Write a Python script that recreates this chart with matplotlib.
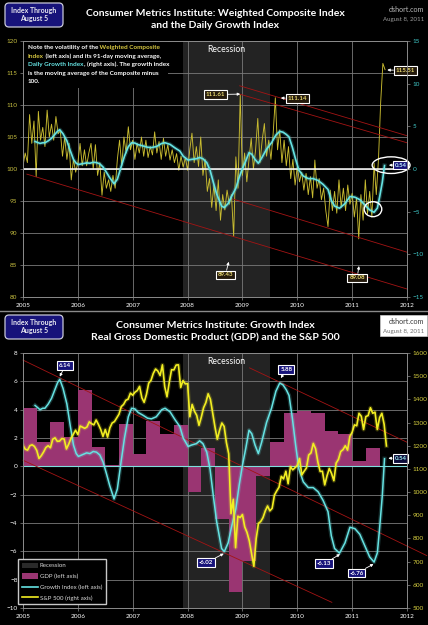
import numpy as np
import matplotlib
matplotlib.use('Agg')
import matplotlib.pyplot as plt
from matplotlib.patches import Rectangle, Ellipse, FancyBboxPatch, Patch
from matplotlib.lines import Line2D
from matplotlib.transforms import IdentityTransform

# ---------------- data ----------------
# Weighted Composite Index, one reading about every two weeks (0.04 yr) from 2005.0
comp_start = 2005.0
comp_step = 0.04
composite = [
    # 2005
    100.5, 102.5, 101, 108.5, 104, 107.5, 98.8, 109, 104.5, 106.5, 103.5, 109.2, 105,
    107, 104.5, 108.2, 105.5, 106, 102, 105, 101.5, 104, 98.3, 101.5, 99.5,
    # 2006
    101, 104, 100.5, 103, 100.5, 102.5, 104, 100, 103.8, 99, 101, 95.9, 99.5,
    97, 98.3, 96.5, 99, 97, 101.5, 104.5, 100.5, 105, 102.5, 106.6, 103,
    # 2007
    104.5, 101.5, 104, 102.5, 105, 102, 104.5, 101.8, 103.5, 102.2, 105.8, 102.5, 104.3,
    101.5, 104.8, 102, 103.8, 101.4, 103, 101, 102.4, 99.8, 102, 100.3, 101.8,
    # 2008
    99.8, 103, 105.6, 101, 103.5, 100.4, 105, 99, 101.5, 96.5, 98.5, 94, 97.5,
    93.5, 98.3, 92, 96, 93.6, 96.7, 94.5, 96, 89.43, 101.9, 97, 111.61,
    # 2009
    99, 102.5, 98, 101.5, 104.8, 100, 103, 107.9, 101, 104.5, 107.1, 102, 104.5,
    101.5, 105.5, 111.14, 103, 106.1, 101, 104.5, 100.5, 103.5, 98.5, 101.5, 97.5,
    # 2010
    100.4, 98, 99.5, 96.7, 99.3, 96, 98.8, 95.5, 101.4, 97, 98.5, 95.2, 97,
    93.5, 91, 96.7, 93.5, 96.5, 93.1, 98.3, 94, 97, 93.5, 97.5, 94.5,
    # 2011
    96.2, 92.5, 95.5, 89.08, 96, 92, 98.3, 93, 96.5, 92.5, 100.9, 96, 101.5,
    110.4, 116.5, 115.51,
]

# Daily Growth Index (91-day moving average of composite minus 100)
growth_years = [
    2005.22, 2005.25, 2005.31, 2005.36, 2005.40, 2005.46, 2005.52, 2005.58, 2005.63, 2005.67,
    2005.73, 2005.80, 2005.86, 2005.92, 2005.97, 2006.01, 2006.10, 2006.16, 2006.22, 2006.28,
    2006.34, 2006.40, 2006.46, 2006.52, 2006.58, 2006.66, 2006.72, 2006.78, 2006.85, 2006.92,
    2006.98, 2007.04, 2007.10, 2007.19, 2007.27, 2007.34, 2007.43, 2007.53, 2007.59, 2007.68,
    2007.77, 2007.86, 2007.92, 2008.01, 2008.07, 2008.16, 2008.22, 2008.28, 2008.35, 2008.41,
    2008.47, 2008.53, 2008.62, 2008.67, 2008.74, 2008.80, 2008.88, 2008.94, 2009.00, 2009.06,
    2009.12, 2009.17, 2009.23, 2009.29, 2009.35, 2009.44, 2009.53, 2009.61, 2009.68, 2009.74,
    2009.80, 2009.85, 2009.91, 2009.97, 2010.03, 2010.11, 2010.20, 2010.29, 2010.38, 2010.47,
    2010.56, 2010.62, 2010.68, 2010.77, 2010.87, 2010.96, 2011.05, 2011.14, 2011.23, 2011.32,
    2011.40, 2011.46, 2011.50, 2011.55, 2011.59,
]
growth_vals = [
    4.3, 4.2, 4.0, 4.1, 4.1, 4.4, 4.8, 5.4, 5.9, 6.14,
    5.5, 4.4, 2.9, 1.5, 0.9, 0.7, 0.85, 0.95, 0.9, 1.05,
    1.0, 0.8, 0.3, -0.5, -1.35, -2.3, -1.6, 0.1, 2.0, 3.5,
    4.1, 4.05, 3.8, 3.6, 3.4, 3.35, 3.5, 4.0, 4.1, 3.85,
    3.3, 2.8, 2.0, 1.4, 1.5, 1.6, 1.8, 1.6, 1.0, -0.2,
    -2.1, -3.9, -5.8, -6.02, -5.4, -4.3, -3.0, -1.35, 0.07, 1.25,
    2.55, 2.3, 1.5, 0.9, 1.7, 3.1, 4.1, 5.3, 5.88, 5.75,
    5.4, 5.0, 3.4, 1.5, -0.2, -1.1, -1.5, -1.5, -1.8, -2.4,
    -3.2, -4.9, -5.8, -6.13, -5.4, -4.3, -4.4, -4.8, -5.6, -6.4,
    -6.76, -6.1, -4.4, -2.06, 0.54,
]

# Real GDP, quarterly % change (annualized), 2005Q1 .. 2011Q2
gdp_quarters = ['2005Q1', '2005Q2', '2005Q3', '2005Q4', '2006Q1', '2006Q2', '2006Q3', '2006Q4',
                '2007Q1', '2007Q2', '2007Q3', '2007Q4', '2008Q1', '2008Q2', '2008Q3', '2008Q4',
                '2009Q1', '2009Q2', '2009Q3', '2009Q4', '2010Q1', '2010Q2', '2010Q3', '2010Q4',
                '2011Q1', '2011Q2']
gdp_vals = [4.1, 1.7, 3.1, 2.1, 5.4, 1.4, 0.1, 3.0,
            0.9, 3.2, 2.3, 2.9, -1.8, 1.3, -3.7, -8.9,
            -6.7, -0.7, 1.7, 3.8, 3.9, 3.8, 2.5, 2.3,
            0.4, 1.3]

# S&P 500: first day of 2005, then mid-month / month-end readings, last = Aug 5 2011
sp500 = [
    1202,
    1185, 1181, 1200, 1204, 1197, 1180, 1145, 1157, 1173, 1192, 1200, 1191,
    1228, 1234, 1219, 1220, 1231, 1229, 1186, 1207, 1232, 1249, 1267, 1248,
    1285, 1280, 1275, 1281, 1303, 1295, 1290, 1311, 1292, 1270, 1240, 1270,
    1237, 1277, 1298, 1304, 1320, 1336, 1369, 1378, 1396, 1401, 1427, 1418,
    1431, 1438, 1456, 1407, 1387, 1421, 1470, 1482, 1512, 1531, 1522, 1503,
    1549, 1455, 1411, 1474, 1528, 1527, 1548, 1549, 1451, 1481, 1467, 1468,
    1325, 1378, 1349, 1331, 1288, 1323, 1364, 1386, 1424, 1400, 1340, 1280,
    1228, 1267, 1298, 1283, 1213, 1165, 907, 969, 760, 896, 890, 903,
    850, 826, 790, 735, 680, 798, 865, 873, 890, 919, 940, 919,
    930, 987, 1005, 1021, 1068, 1057, 1090, 1036, 1110, 1096, 1105, 1115,
    1145, 1074, 1090, 1104, 1160, 1169, 1210, 1187, 1130, 1089, 1090, 1031,
    1070, 1102, 1080, 1049, 1125, 1141, 1175, 1183, 1200, 1181, 1240, 1258,
    1290, 1286, 1340, 1327, 1270, 1326, 1330, 1364, 1340, 1345, 1270, 1321,
    1340, 1292, 1199,
]

recession = (2007.92, 2009.5)

# hand drawn trend channels (start, end) in data units
top_trends = [((2008.95, 113.0), (2012.0, 105.2)),
              ((2008.95, 111.7), (2012.0, 104.1)),
              ((2005.07, 99.2), (2012.0, 81.25)),
              ((2008.83, 95.3), (2012.0, 87.0))]
bottom_trends = [((2005.0, 7.5), (2012.36, -6.3)),
                 ((2005.0, 0.43), (2010.63, -9.6)),
                 ((2009.13, 6.95), (2012.0, 1.7))]

# ---------------- style ----------------
W, H = 428, 625
YEL_COMP = '#c9bc30'
CYAN = '#66e3e3'
SPX = '#f2ee22'
GDP = '#9a3572'
REC = '#232323'
GRID = '#7a7a7a'
RED = '#a31414'
NAVY = '#17137a'

plt.rcParams['font.family'] = ['Lato', 'DejaVu Sans']

fig = plt.figure(figsize=(W / 100, H / 100), dpi=100, facecolor='black')


def fpos(x, y):
    return x / W, 1 - y / H


def style(ax):
    ax.set_facecolor('black')
    for s in ax.spines.values():
        s.set_color('#8a8a8a')
        s.set_linewidth(0.6)
    ax.tick_params(labelsize=4.6, length=2, width=0.5, color='#8a8a8a', pad=2)


def fit_width(txt, px):
    r = fig.canvas.get_renderer()
    w = txt.get_window_extent(r).width
    txt.set_fontsize(txt.get_fontsize() * px / w)
    return txt.get_fontsize()


def header(top, line1, line2, w1, boxed_credit):
    box = FancyBboxPatch((5, H - top - 25), 58, 24, boxstyle='round,pad=0,rounding_size=4',
                         transform=IdentityTransform(), fc=NAVY, ec='#c8c8d8', lw=0.9)
    fig.add_artist(box)
    fig.text(*fpos(34, top + 8), 'Index Through', ha='center', va='center',
             color='#e8e8f0', fontsize=5, weight='bold')
    fig.text(*fpos(34, top + 17), 'August 5', ha='center', va='center',
             color='#e8e8f0', fontsize=5, weight='bold')
    t1 = fig.text(*fpos(215, top + 11), line1, ha='center', va='center',
                  color='white', fontsize=8, weight='bold')
    size = fit_width(t1, w1)
    fig.text(*fpos(215, top + 24), line2, ha='center', va='center',
             color='white', fontsize=size, weight='bold')
    if boxed_credit:
        fig.add_artist(Rectangle((380, H - top - 22), 47, 21, transform=IdentityTransform(),
                                 fc='white', ec='#d0d0d0', lw=0.5))
        c1, c2 = '#3a3a3a', '#707070'
    else:
        c1, c2 = '#b8b8b8', '#9a9a9a'
    fig.text(*fpos(424, top + 8), 'dshort.com', ha='right', va='center',
             color=c1, fontsize=5.2)
    fig.text(*fpos(424, top + 17), 'August 8, 2011', ha='right', va='center',
             color=c2, fontsize=4.4)


def tag(ax, txt, xy, xytext, fc, tc):
    ax.annotate(txt, xy=xy, xytext=xytext, ha='center', va='center', fontsize=4.4,
                color=tc, weight='bold', zorder=10, annotation_clip=False,
                bbox=dict(boxstyle='square,pad=0.3', fc=fc, ec='white', lw=0.8),
                arrowprops=dict(arrowstyle='-|>', color='white', lw=0.6,
                                mutation_scale=4, shrinkA=0, shrinkB=0))


# ---------------- top panel ----------------
ax1 = fig.add_axes([23 / W, 1 - 297 / H, 384 / W, 256 / H])
style(ax1)
ax1.grid(True, color=GRID, lw=0.6)
ax1.set_axisbelow(True)
ax1.axvspan(*recession, color=REC, lw=0, zorder=0.2)

comp_years = comp_start + comp_step * np.arange(len(composite))
ax1.plot(comp_years, composite, color=YEL_COMP, lw=0.65, zorder=2)
ax1.axhline(100, color='white', lw=1.1, zorder=2.5)
g_top = 100 + np.array(growth_vals)
ax1.plot(growth_years, g_top, color=CYAN, lw=3, alpha=0.22, zorder=3)
ax1.plot(growth_years, g_top, color=CYAN, lw=1.2, zorder=3.1)
for (x0, y0), (x1, y1) in top_trends:
    ax1.plot([x0, x1], [y0, y1], color=RED, lw=0.6, zorder=2.2)

# note area blanks out the grid
ax1.add_patch(Rectangle((0, 0.816), 0.378, 0.184, transform=ax1.transAxes,
                        fc='black', lw=0, zorder=0.6))
ax1.text(sum(recession) / 2, 118.6, 'Recession', ha='center', va='center',
         color='white', fontsize=6.2)

ax1.set_xlim(2005, 2012)
ax1.set_ylim(80, 120)
ax1.set_xticks(range(2005, 2013))
ax1.set_yticks(range(80, 121, 5))
ax1.tick_params(axis='x', labelcolor='white')
ax1.tick_params(axis='y', labelcolor='#c8c040')

ax1r = ax1.twinx()
style(ax1r)
ax1r.set_ylim(-15, 15)
ax1r.set_yticks(range(-15, 16, 5))
ax1r.tick_params(axis='y', labelcolor='#40c8c8')

tag(ax1, '111.61', (2008.96, 111.7), (2008.51, 111.64), '#241a0c', '#e8d870')
tag(ax1, '111.14', (2009.70, 111.1), (2010.0, 111.0), '#241a0c', '#e8d870')
tag(ax1, '115.51', (2011.64, 115.47), (2011.97, 115.4), '#241a0c', '#e8d870')
tag(ax1, '89.43', (2008.75, 85.5), (2008.69, 83.44), '#241a0c', '#e8d870')
tag(ax1, '89.08', (2011.125, 84.84), (2011.09, 82.97), '#241a0c', '#e8d870')
tag(ax1, '0.54', (2011.67, 100.6), (2011.88, 100.6), NAVY, '#bfefff')
ax1.add_patch(Ellipse((2011.71, 100.6), 0.69, 2.6, fill=False, ec='white',
                      lw=1.0, zorder=9, clip_on=False))
ax1.add_patch(Ellipse((2011.38, 93.72), 0.32, 2.34, fill=False, ec='white',
                      lw=1.0, zorder=9))

# note with coloured words
NOTE_Y = '#d8c840'
note = [
    [('Note the volatility of the', 'white'), (' Weighted Composite', NOTE_Y)],
    [('Index', NOTE_Y), (' (left axis) and its 91-day moving average,', 'white')],
    [('Daily Growth Index', CYAN), (', (right axis). The growth index', 'white')],
    [('is the moving average of the Composite minus', 'white')],
    [('100.', 'white')],
]
note_texts = []
first_line = []
for i, parts in enumerate(note):
    prev = None
    for s, c in parts:
        if prev is None:
            t = fig.text(*fpos(28, 48 + 8.4 * i), s, color=c, fontsize=4.3,
                         weight='bold', ha='left', va='center')
        else:
            t = ax1.annotate(s, xy=(1, 0), xycoords=prev, ha='left', va='bottom',
                             color=c, fontsize=4.3, weight='bold')
        note_texts.append(t)
        if i == 0:
            first_line.append(t)
        prev = t
r = fig.canvas.get_renderer()
line_w = sum(t.get_window_extent(r).width for t in first_line)
scale = 134 / line_w
for t in note_texts:
    t.set_fontsize(t.get_fontsize() * scale)

# ---------------- bottom panel ----------------
ax2 = fig.add_axes([23 / W, 1 - 608 / H, 384 / W, 255 / H])
style(ax2)
ax2.grid(True, color=GRID, lw=0.6)
ax2.set_axisbelow(True)
ax2.axvspan(*recession, color=REC, lw=0, zorder=0.2)

gdp_x = [int(q[:4]) + (int(q[-1]) - 1) / 4 for q in gdp_quarters]
ax2.bar(gdp_x, gdp_vals, width=0.25, align='edge', color=GDP, lw=0, zorder=1.5)
ax2.axhline(0, color='#7fdede', lw=0.8, zorder=2)
for (x0, y0), (x1, y1) in bottom_trends:
    ax2.plot([x0, x1], [y0, y1], color=RED, lw=0.6, zorder=2.2, clip_on=False)
ax2.plot(growth_years, growth_vals, color=CYAN, lw=3, alpha=0.22, zorder=3)
ax2.plot(growth_years, growth_vals, color=CYAN, lw=1.1, zorder=3.1)
ax2.text(sum(recession) / 2, 7.37, 'Recession', ha='center', va='center',
         color='white', fontsize=6.2)

ax2.set_xlim(2005, 2012)
ax2.set_ylim(-10, 8)
ax2.set_xticks(range(2005, 2013))
ax2.set_yticks(range(-10, 9, 2))
ax2.tick_params(axis='both', labelcolor='white')

ax2r = ax2.twinx()
style(ax2r)
sp_years = 2005 + np.arange(len(sp500)) / 24
ax2r.plot(sp_years, sp500, color=SPX, lw=3, alpha=0.2)
ax2r.plot(sp_years, sp500, color=SPX, lw=1.2)
ax2r.set_ylim(500, 1600)
ax2r.set_yticks(range(500, 1601, 100))
ax2r.tick_params(axis='y', labelcolor='#d8d040')

for txt, xy, xyt in [('6.14', (2005.67, 6.33), (2005.77, 7.12)),
                     ('5.88', (2009.70, 6.23), (2009.80, 6.83)),
                     ('-6.02', (2008.66, -6.16), (2008.34, -6.8)),
                     ('-6.13', (2010.78, -6.2), (2010.49, -6.87)),
                     ('-6.76', (2011.39, -6.9), (2011.08, -7.54))]:
    tag(ax2, txt, xy, xyt, NAVY, 'white')
tag(ax2, '0.54', (2011.66, 0.57), (2011.88, 0.57), '#0c0c3a', '#9ff0f0')

handles = [Patch(fc='#2a2a2a', ec='none'), Patch(fc=GDP, ec='none'),
           Line2D([], [], color=CYAN, lw=1.2), Line2D([], [], color=SPX, lw=1.2)]
labels = ['Recession', 'GDP (left axis)', 'Growth Index (left axis)', 'S&P 500 (right axis)']
fig.legend(handles, labels, loc='upper left', bbox_to_anchor=fpos(18, 559),
           frameon=True, fancybox=False, fontsize=4.4, facecolor='black',
           edgecolor='#c8c8c8', labelcolor='#d8d8d8', handlelength=2.6,
           handleheight=1.0, handletextpad=0.4, labelspacing=0.8,
           borderpad=0.6, borderaxespad=0, framealpha=1)

# ---------------- headers ----------------
header(2, 'Consumer Metrics Institute: Weighted Composite Index',
       'and the Daily Growth Index', 260, False)
header(314, 'Consumer Metrics Institute: Growth Index',
       'Real Gross Domestic Product (GDP) and the S&P 500', 198, True)
fig.add_artist(Line2D([0, 1], [1 - 311 / H] * 2, color='#8a8a8a', lw=1.0))

fig.savefig('out.png', dpi=100, facecolor='black')
